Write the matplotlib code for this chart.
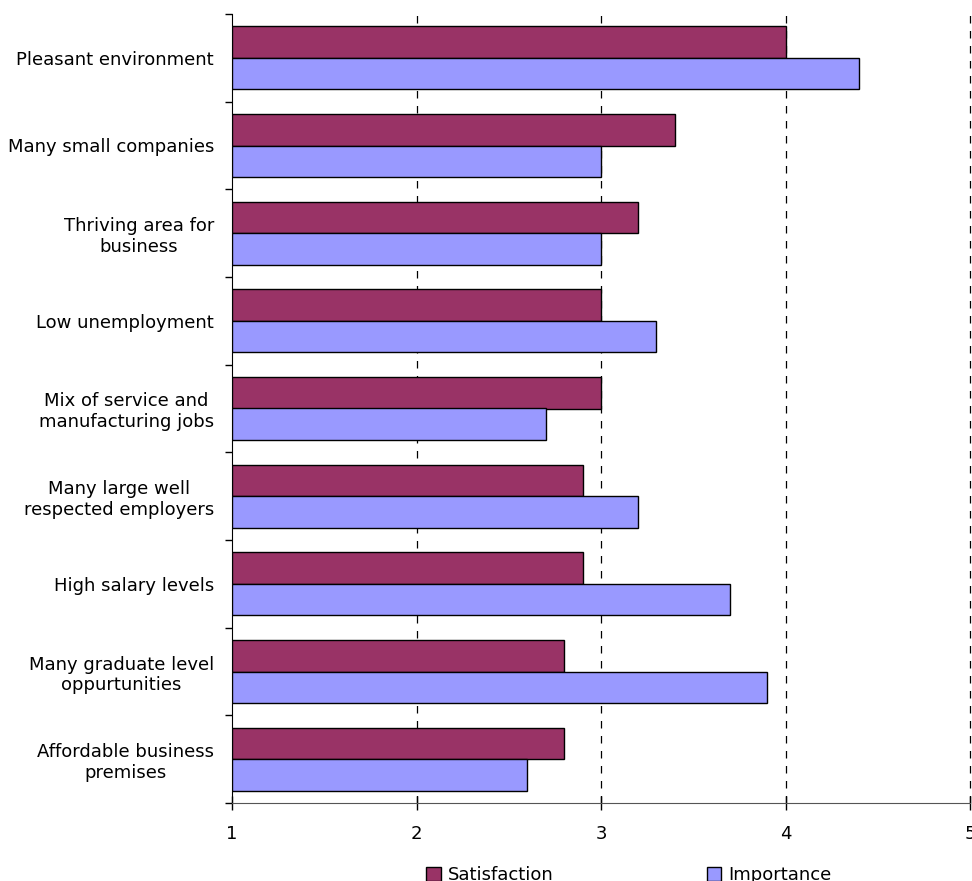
import matplotlib
matplotlib.use("Agg")
import matplotlib.pyplot as plt
import numpy as np
from matplotlib.patches import Patch

categories = [
    "Pleasant environment",
    "Many small companies",
    "Thriving area for\nbusiness",
    "Low unemployment",
    "Mix of service and\nmanufacturing jobs",
    "Many large well\nrespected employers",
    "High salary levels",
    "Many graduate level\noppurtunities",
    "Affordable business\npremises",
]
satisfaction = [4.0, 3.4, 3.2, 3.0, 3.0, 2.9, 2.9, 2.8, 2.8]
importance = [4.4, 3.0, 3.0, 3.3, 2.7, 3.2, 3.7, 3.9, 2.6]
x_ticks = [1, 2, 3, 4, 5]
series_names = ["Satisfaction", "Importance"]

sat_color = "#993366"
imp_color = "#9999FF"

plt.rcParams["font.family"] = ["DejaVu Sans"]

fig = plt.figure(figsize=(9.72, 8.81), dpi=100)
ax = fig.add_axes([232 / 972, 1 - 803 / 881, (970 - 232) / 972, (803 - 14) / 881])

n = len(categories)
y = np.arange(n)
h = 0.36

ax.barh(y - h / 2, np.array(satisfaction) - 1, left=1, height=h,
        color=sat_color, edgecolor="black", linewidth=1, zorder=3)
ax.barh(y + h / 2, np.array(importance) - 1, left=1, height=h,
        color=imp_color, edgecolor="black", linewidth=1, zorder=3)

ax.set_xlim(1, 5)
ax.set_ylim(n - 0.5, -0.5)

ax.set_xticks(x_ticks)
ax.set_xticklabels([str(t) for t in x_ticks], fontsize=13)
ax.tick_params(axis="x", direction="inout", length=10, width=1, pad=11)

ax.set_yticks(y)
ax.set_yticklabels(categories, fontsize=13, multialignment="center")
ax.set_yticks(np.arange(n + 1) - 0.5, minor=True)
ax.tick_params(axis="y", which="major", length=0, pad=13)
ax.tick_params(axis="y", which="minor", direction="out", length=5, width=1)

for xv in x_ticks[1:]:
    ax.axvline(xv, color="black", linestyle=(0, (6, 6)), linewidth=0.9,
               zorder=1, clip_on=False)

for s in ["top", "right"]:
    ax.spines[s].set_visible(False)
ax.spines["left"].set_color("black")
ax.spines["bottom"].set_color("#555555")

handles = [Patch(facecolor=sat_color, edgecolor="black", linewidth=1),
           Patch(facecolor=imp_color, edgecolor="black", linewidth=1)]
fig.legend(handles, series_names, loc="center", bbox_to_anchor=(629 / 972, 1 - 875 / 881),
           ncol=2, frameon=False, fontsize=13, handlelength=0.8, handleheight=0.8,
           handletextpad=0.4, columnspacing=8.5)

fig.savefig("out.png", dpi=100)
